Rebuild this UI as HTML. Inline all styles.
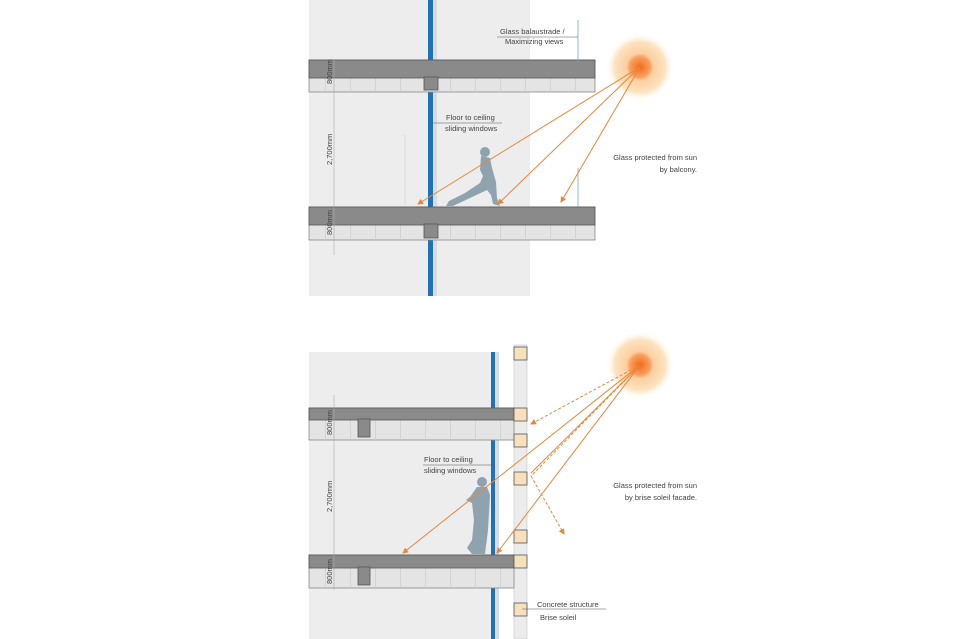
<!DOCTYPE html>
<html><head><style>body{margin:0;background:#fff}svg{display:block}text{font-family:"Liberation Sans",sans-serif;fill:#444;font-size:7.5px}</style></head><body>
<svg width="960" height="639" viewBox="0 0 960 639" xmlns="http://www.w3.org/2000/svg">
<defs>
<radialGradient id="sun"><stop offset="0" stop-color="#f36a1a"/><stop offset="0.3" stop-color="#f8a060"/><stop offset="0.4" stop-color="#fccfa0"/><stop offset="0.75" stop-color="#fde3c0"/><stop offset="1" stop-color="#fff" stop-opacity="0"/></radialGradient>
<marker id="ar" markerWidth="6" markerHeight="6" refX="5" refY="3" orient="auto"><path d="M0,0 L6,3 L0,6z" fill="#e9853a"/></marker>
<pattern id="grid" width="25" height="20" patternUnits="userSpaceOnUse"><line x1="0.5" y1="0" x2="0.5" y2="20" stroke="#c8c8c8" stroke-width="0.6"/></pattern>
</defs>
<!-- TOP -->
<rect x="309" y="0" width="221" height="296" fill="#ededee"/>
<rect x="433" y="0" width="4" height="296" fill="#d6dde2"/>
<rect x="428" y="0" width="5" height="296" fill="#1f72b5"/>
<g>
<rect x="309" y="60" width="286" height="32" fill="#e4e4e4" stroke="#888" stroke-width="0.8"/>
<rect x="309" y="78" width="286" height="14" fill="url(#grid)"/>
<rect x="309" y="60" width="286" height="18" fill="#8a8a8a" stroke="#555" stroke-width="0.8"/>
<rect x="424" y="77" width="14" height="13" fill="#8a8a8a" stroke="#555" stroke-width="0.8"/>
<rect x="309" y="207" width="286" height="33" fill="#e4e4e4" stroke="#888" stroke-width="0.8"/>
<rect x="309" y="225" width="286" height="15" fill="url(#grid)"/>
<rect x="309" y="207" width="286" height="18" fill="#8a8a8a" stroke="#555" stroke-width="0.8"/>
<rect x="424" y="224" width="14" height="14" fill="#8a8a8a" stroke="#555" stroke-width="0.8"/>
</g>
<line x1="334" y1="60" x2="334" y2="255" stroke="#aaa" stroke-width="0.6"/>
<line x1="405" y1="135" x2="405" y2="205" stroke="#ccc" stroke-width="0.6"/>
<text transform="translate(332,84) rotate(-90)" font-size="6">800mm</text>
<text transform="translate(332,165) rotate(-90)" font-size="6">2,700mm</text>
<text transform="translate(332,235) rotate(-90)" font-size="6">800mm</text>
<line x1="578" y1="20" x2="578" y2="62" stroke="#7ab" stroke-width="0.8"/>
<line x1="578" y1="168" x2="578" y2="207" stroke="#7ab" stroke-width="0.8"/>
<line x1="497" y1="37" x2="578" y2="37" stroke="#555" stroke-width="0.6"/>
<text x="500" y="34">Glass balaustrade /</text>
<text x="505" y="44">Maximizing views</text>
<line x1="432" y1="123" x2="502" y2="123" stroke="#555" stroke-width="0.6"/>
<text x="446" y="120">Floor to ceiling</text>
<text x="445" y="131">sliding windows</text>
<text x="697" y="160" text-anchor="end">Glass protected from sun</text>
<text x="697" y="172" text-anchor="end">by balcony.</text>
<g fill="#8fa3ae">
<circle cx="485" cy="152" r="5"/>
<path d="M481,156 L480,170 L483,176 L480,183 L465,193 L449,201 L446,206 L453,206 L470,198 L487,190 L491,195 L493,204 L500,206 L497,198 L496,182 L492,168 L490,158z"/>
</g>
<circle cx="640" cy="67" r="34" fill="url(#sun)"/>
<g stroke="#e9853a" stroke-width="1" marker-end="url(#ar)">
<line x1="640" y1="67" x2="418" y2="204"/>
<line x1="640" y1="67" x2="498" y2="204"/>
<line x1="640" y1="67" x2="561" y2="202"/>
</g>
<!-- BOTTOM -->
<rect x="309" y="352" width="186" height="287" fill="#ededee"/>
<rect x="495" y="352" width="4" height="287" fill="#d6dde2"/>
<rect x="491" y="352" width="4" height="287" fill="#1f72b5"/>
<rect x="514" y="345" width="13" height="294" fill="#ececec" stroke="#bbb" stroke-width="0.5"/>
<rect x="309" y="408" width="205" height="32" fill="#e4e4e4" stroke="#888" stroke-width="0.8"/>
<rect x="309" y="420" width="205" height="20" fill="url(#grid)"/>
<rect x="309" y="408" width="205" height="12" fill="#8a8a8a" stroke="#555" stroke-width="0.8"/>
<rect x="358" y="419" width="12" height="18" fill="#8a8a8a" stroke="#555" stroke-width="0.8"/>
<rect x="309" y="555" width="205" height="33" fill="#e4e4e4" stroke="#888" stroke-width="0.8"/>
<rect x="309" y="568" width="205" height="20" fill="url(#grid)"/>
<rect x="309" y="555" width="205" height="13" fill="#8a8a8a" stroke="#555" stroke-width="0.8"/>
<rect x="358" y="567" width="12" height="18" fill="#8a8a8a" stroke="#555" stroke-width="0.8"/>
<g fill="#f7e1bd" stroke="#555" stroke-width="0.8">
<rect x="514" y="347" width="13" height="13"/><rect x="514" y="408" width="13" height="13"/><rect x="514" y="434" width="13" height="13"/><rect x="514" y="472" width="13" height="13"/><rect x="514" y="530" width="13" height="13"/><rect x="514" y="555" width="13" height="13"/><rect x="514" y="603" width="13" height="13"/>
</g>
<line x1="334" y1="395" x2="334" y2="590" stroke="#aaa" stroke-width="0.6"/>
<text transform="translate(332,435) rotate(-90)" font-size="6">800mm</text>
<text transform="translate(332,512) rotate(-90)" font-size="6">2,700mm</text>
<text transform="translate(332,584) rotate(-90)" font-size="6">800mm</text>
<line x1="423" y1="465" x2="494" y2="465" stroke="#555" stroke-width="0.6"/>
<text x="424" y="462">Floor to ceiling</text>
<text x="424" y="473">sliding windows</text>
<text x="697" y="488" text-anchor="end">Glass protected from sun</text>
<text x="697" y="500" text-anchor="end">by brise soleil facade.</text>
<line x1="522" y1="609" x2="606" y2="609" stroke="#555" stroke-width="0.6"/>
<text x="537" y="607">Concrete structure</text>
<text x="540" y="620">Brise soleil</text>
<g fill="#8fa3ae">
<circle cx="482" cy="482" r="5"/>
<path d="M477,487 L470,497 L466,500 L472,503 L474,520 L472,540 L467,548 L472,554 L485,554 L488,530 L490,495 L487,487z"/>
</g>
<circle cx="640" cy="365" r="34" fill="url(#sun)"/>
<g stroke="#e9853a" stroke-width="1" marker-end="url(#ar)">
<line x1="640" y1="365" x2="403" y2="553"/>
<line x1="640" y1="365" x2="497" y2="553"/>
</g>
<line x1="640" y1="365" x2="531" y2="473" stroke="#e9853a" stroke-width="1"/>
<g stroke="#e9853a" stroke-width="1" stroke-dasharray="3,2" fill="none">
<line x1="640" y1="365" x2="531" y2="424" marker-end="url(#ar)"/>
<line x1="640" y1="365" x2="531" y2="476"/>
<line x1="531" y1="476" x2="564" y2="534" marker-end="url(#ar)"/>
</g>
</svg>
</body></html>
